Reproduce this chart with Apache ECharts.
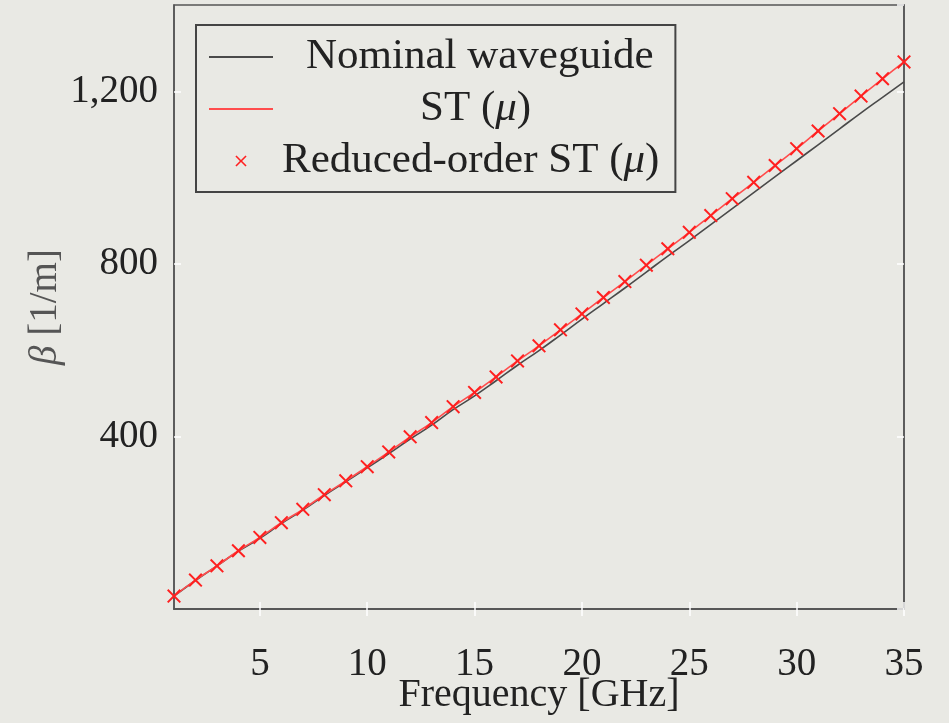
<!DOCTYPE html>
<html>
<head>
<meta charset="utf-8">
<script src="https://cdn.jsdelivr.net/npm/echarts@6/dist/echarts.min.js"></script>
<style>
  html, body { margin: 0; padding: 0; background: #e9e9e4; }
  #chart { width: 949px; height: 723px; }
</style>
</head>
<body>
<div id="chart"></div>
<script>
  // frequency samples [GHz]
  const freq = [1,2,3,4,5,6,7,8,9,10,11,12,13,14,15,16,17,18,19,20,
                21,22,23,24,25,26,27,28,29,30,31,32,33,34,35];
  // nominal waveguide beta [1/m]
  const nominal = [30,66,100,134,164,198,229,263,295,327,360,394,426,462,494,529,565,599,635,672,
                   708,744,781,818,854,891,928,965,1002,1039,1076,1113,1150,1186,1222];
  // ST (mu) beta [1/m], reduced-order ST sits on the same points
  const st = [30,67,100,135,166,200,231,265,297,330,364,399,432,469,502,538,575,610,647,684,
              722,759,797,835,873,912,951,989,1028,1067,1108,1148,1189,1229,1268];
  const xTicks = [5,10,15,20,25,30,35];

  const pairs = ys => freq.map((f, i) => [f, ys[i]]);
  const serif = 'Liberation Serif';
  const crossPath = 'path://M0,1L1,0L5,4L9,0L10,1L6,5L10,9L9,10L5,6L1,10L0,9L4,5Z';

  let myChart = echarts.init(document.getElementById('chart'));
  let option = {
    backgroundColor: '#e9e9e4',
    animation: false,
    grid: {
      left: 174, right: 45, top: 5, bottom: 114,
      outerBoundsMode: 'none',
      show: true, borderColor: '#555', borderWidth: 1.5
    },
    legend: {
      left: 196, top: 25,
      orient: 'vertical',
      itemWidth: 64, itemHeight: 14, itemGap: 0,
      padding: [6, 16, 5, 12],
      borderColor: '#444', borderWidth: 2,
      backgroundColor: '#e9e9e4',
      selectedMode: false,
      textStyle: {
        fontFamily: serif, fontSize: 43, color: '#222', lineHeight: 52,
        rich: {
          s1: { width: 28 }, s2: { width: 142 }, s3: { width: 4 },
          m: { fontFamily: serif, fontStyle: 'italic', fontSize: 43, color: '#222' }
        }
      },
      formatter: function (name) {
        if (name === 'Nominal waveguide') return '{s1|}' + name;
        if (name === 'ST (μ)') return '{s2|}ST ({m|μ})';
        return '{s3|}Reduced-order ST ({m|μ})';
      },
      data: [
        { name: 'Nominal waveguide', itemStyle: { opacity: 0 } },
        { name: 'ST (μ)', itemStyle: { opacity: 0 } },
        { name: 'Reduced-order ST (μ)' }
      ]
    },
    xAxis: [{
      type: 'value', min: 1, max: 35,
      name: 'Frequency [GHz]', nameLocation: 'middle', nameGap: 66, nameMoveOverlap: false,
      nameTextStyle: { fontFamily: serif, fontSize: 40, color: '#222' },
      axisLine: { lineStyle: { color: '#555', width: 1.5 } },
      axisTick: { inside: true, length: 7, customValues: xTicks, lineStyle: { color: '#fff', width: 1.5 } },
      axisLabel: { customValues: xTicks, margin: 36, fontFamily: serif, fontSize: 39, color: '#222' },
      splitLine: { show: false }
    }, {
      type: 'value', min: 1, max: 35, position: 'top',
      axisLine: { lineStyle: { color: '#555', width: 1.5 } },
      axisTick: { inside: true, length: 7, customValues: xTicks, lineStyle: { color: '#fff', width: 1.5 } },
      axisLabel: { show: false },
      splitLine: { show: false }
    }],
    yAxis: [{
      type: 'value', min: 0, max: 1400, interval: 400,
      name: '{i|β} [1/m]', nameLocation: 'middle', nameGap: 109, nameRotate: 90, nameMoveOverlap: false,
      nameTextStyle: {
        fontFamily: serif, fontSize: 39, color: '#555',
        rich: { i: { fontFamily: serif, fontStyle: 'italic', fontSize: 39, color: '#555' } }
      },
      axisLine: { show: true, lineStyle: { color: '#555', width: 1.5 } },
      axisTick: { show: true, inside: true, length: 7, lineStyle: { color: '#fff', width: 1.5 } },
      axisLabel: {
        showMinLabel: false, showMaxLabel: false, margin: 16,
        fontFamily: serif, fontSize: 39, color: '#222',
        formatter: v => v >= 1000 ? Math.floor(v / 1000) + ',' + String(v % 1000).padStart(3, '0') : String(v)
      },
      splitLine: { show: false }
    }, {
      type: 'value', min: 0, max: 1400, interval: 400, position: 'right',
      axisLine: { show: true, lineStyle: { color: '#555', width: 1.5 } },
      axisTick: { show: true, inside: true, length: 7, lineStyle: { color: '#fff', width: 1.5 } },
      axisLabel: { show: false },
      splitLine: { show: false }
    }],
    series: [{
      name: 'Nominal waveguide', type: 'line', data: pairs(nominal),
      symbol: 'none', smooth: true,
      lineStyle: { color: '#4a4a4a', width: 1.6 }, itemStyle: { color: '#4a4a4a' }
    }, {
      name: 'ST (μ)', type: 'line', data: pairs(st),
      symbol: 'none', smooth: true,
      lineStyle: { color: '#ff4d4d', width: 1.6 }, itemStyle: { color: '#ff4d4d' }
    }, {
      name: 'Reduced-order ST (μ)', type: 'line', data: pairs(st),
      symbol: crossPath, symbolSize: 14, showSymbol: true,
      lineStyle: { width: 0, opacity: 0 },
      itemStyle: { color: '#ff2020' }
    }]
  };
  myChart.setOption(option);
</script>
</body>
</html>
